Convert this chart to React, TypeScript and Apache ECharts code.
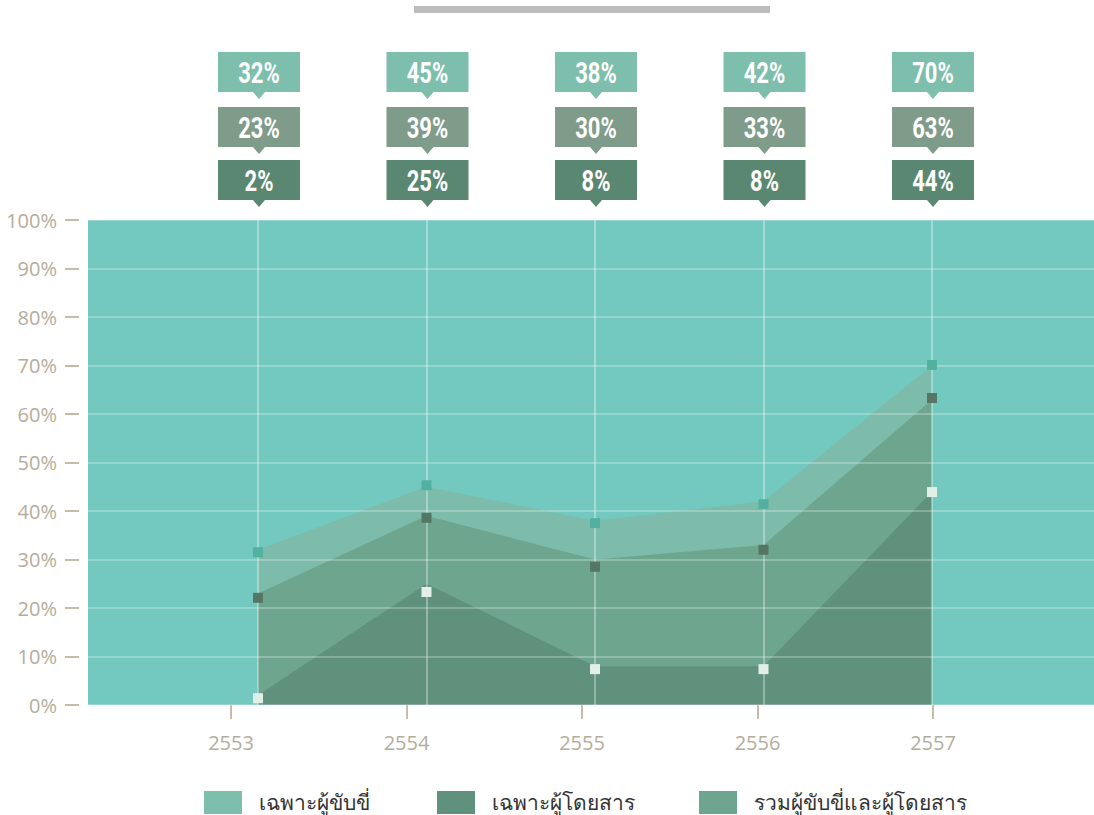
import React, { useEffect, useRef } from "react";
import * as echarts from "echarts";

const years = ["2553", "2554", "2555", "2556", "2557"];
const seriesNames = ["เฉพาะผู้ขับขี่", "เฉพาะผู้โดยสาร", "รวมผู้ขับขี่และผู้โดยสาร"];
// label values (also the area outlines)
const driverOnly = [32, 45, 38, 42, 70];
const combined = [23, 39, 30, 33, 63];
const passengerOnly = [2, 25, 8, 8, 44];
// marker values as drawn
const driverMarkers = [31.5, 45.3, 37.5, 41.4, 70.1];
const combinedMarkers = [22.1, 38.6, 28.5, 32.0, 63.3];
const passengerMarkers = [1.4, 23.3, 7.4, 7.4, 43.9];

const C_TEAL = "#73c9bf";
const C_LIGHT = "#7dbcaa";
const C_MID = "#6ea58f";
const C_DARK = "#60917c";
const C_ROW1 = "#7dbead";
const C_ROW2 = "#7f9b8a";
const C_ROW3 = "#5a8771";
const AXIS_TXT = "#b5ad9b";
const AXIS_TICK = "#c4bba8";
const GRIDLINE = "rgba(255,255,255,0.33)";

export default function App() {
  const ref = useRef<HTMLDivElement>(null);
  useEffect(() => {
    if (!ref.current) return;
    const chart = echarts.init(ref.current, undefined, { renderer: "svg" });
    const labelData = years.map((_, i) => [i, driverOnly[i], combined[i], passengerOnly[i]]);
    const option: any = {
      animation: false,
      graphic: [
        { type: "rect", shape: { x: 414, y: 6, width: 356, height: 7 }, style: { fill: "#bdbdbd" } },
      ],
      grid: [
        { left: 88, top: 220, width: 1006, height: 485, show: true, backgroundColor: C_TEAL, borderWidth: 0 },
        { left: 258, top: 220, width: 674, height: 485 },
        { left: 231, top: 220, width: 702, height: 485 },
        { left: 79, top: 220, width: 1, height: 485 },
      ],
      xAxis: [
        { gridIndex: 0, type: "value", show: false },
        {
          gridIndex: 1, type: "category", data: years, boundaryGap: false, z: 5,
          axisLine: { show: false }, axisTick: { show: false }, axisLabel: { show: false },
          splitLine: { show: true, lineStyle: { color: GRIDLINE, width: 2 } },
        },
        {
          gridIndex: 2, type: "category", data: years, boundaryGap: false, offset: 7,
          axisLine: { show: true, lineStyle: { color: "rgba(0,0,0,0)" } },
          axisTick: { show: true, length: 14, interval: 0, lineStyle: { color: AXIS_TICK, width: 2 } },
          axisLabel: { color: AXIS_TXT, fontSize: 20, margin: 20, fontFamily: "'Open Sans', sans-serif" },
          splitLine: { show: false },
        },
        { gridIndex: 3, type: "value", show: false },
      ],
      yAxis: [
        {
          gridIndex: 0, type: "value", min: 0, max: 100, interval: 10, z: 5,
          axisLine: { show: false },
          axisTick: { show: false },
          axisLabel: { show: false },
          splitLine: { show: true, lineStyle: { color: GRIDLINE, width: 1.5 } },
        },
        { gridIndex: 1, type: "value", min: 0, max: 100, show: false },
        { gridIndex: 2, type: "value", min: 0, max: 100, show: false },
        {
          gridIndex: 3, type: "value", min: 0, max: 100, interval: 10, position: "left",
          axisLine: { show: true, lineStyle: { color: "rgba(0,0,0,0)" } },
          axisTick: { show: true, inside: false, length: 14, lineStyle: { color: AXIS_TICK, width: 2 } },
          axisLabel: { show: true, color: AXIS_TXT, fontSize: 20, margin: 22, formatter: "{value}%", fontFamily: "'Open Sans', sans-serif" },
          splitLine: { show: false },
        },
      ],
      legend: [0, 1, 2].map((k) => ({
        data: [{ name: seriesNames[k], itemStyle: { color: [C_ROW1, C_DARK, C_MID][k] } }],
        left: [199, 432, 694][k],
        top: 786,
        itemWidth: 38,
        itemHeight: 23,
        icon: "rect",
        selectedMode: false,
        textStyle: { fontSize: 21, color: "#333", padding: [0, 0, 0, 12] },
      })),
      series: [
        {
          name: seriesNames[0], type: "line", xAxisIndex: 1, yAxisIndex: 1, data: driverOnly,
          symbol: "none", lineStyle: { width: 0 }, itemStyle: { color: C_LIGHT },
          areaStyle: { color: C_LIGHT, opacity: 1 }, z: 2,
        },
        {
          name: seriesNames[2], type: "line", xAxisIndex: 1, yAxisIndex: 1, data: combined,
          symbol: "none", lineStyle: { width: 0 }, itemStyle: { color: C_MID },
          areaStyle: { color: C_MID, opacity: 1 }, z: 2,
        },
        {
          name: seriesNames[1], type: "line", xAxisIndex: 1, yAxisIndex: 1, data: passengerOnly,
          symbol: "none", lineStyle: { width: 0 }, itemStyle: { color: C_DARK },
          areaStyle: { color: C_DARK, opacity: 1 }, z: 2,
        },
        {
          type: "scatter", xAxisIndex: 1, yAxisIndex: 1, data: driverMarkers, symbol: "rect",
          symbolSize: 10, itemStyle: { color: "#52b0a0", opacity: 1 }, z: 10,
        },
        {
          type: "scatter", xAxisIndex: 1, yAxisIndex: 1, data: combinedMarkers, symbol: "rect",
          symbolSize: 10, itemStyle: { color: "#557565", opacity: 1 }, z: 10,
        },
        {
          type: "scatter", xAxisIndex: 1, yAxisIndex: 1, data: passengerMarkers, symbol: "rect",
          symbolSize: 10, itemStyle: { color: "#e2efe9", opacity: 1 }, z: 10,
        },
        {
          type: "custom", xAxisIndex: 1, yAxisIndex: 1, data: labelData, clip: false, z: 10,
          encode: { x: 0, y: 1 },
          renderItem: (params: any, api: any) => {
            const i = api.value(0);
            const pt = api.coord([i, 100]);
            const cx = pt[0] + 1;
            const top = pt[1];
            const rows = [
              { v: api.value(1), c: C_ROW1, y: top - 168 },
              { v: api.value(2), c: C_ROW2, y: top - 113 },
              { v: api.value(3), c: C_ROW3, y: top - 60 },
            ];
            const children: any[] = [];
            rows.forEach((r) => {
              children.push({ type: "rect", shape: { x: cx - 41, y: r.y, width: 82, height: 40 }, style: { fill: r.c } });
              children.push({
                type: "polygon",
                shape: { points: [[cx - 6, r.y + 40], [cx + 6, r.y + 40], [cx, r.y + 47]] },
                style: { fill: r.c },
              });
              children.push({
                type: "text",
                x: cx,
                y: r.y + 21,
                scaleX: 0.76,
                style: {
                  text: r.v + "%",
                  fill: "#ffffff",
                  fontSize: 29,
                  fontWeight: "bold",
                  fontFamily: "Roboto, 'Noto Sans', sans-serif",
                  align: "center",
                  verticalAlign: "middle",
                },
              });
            });
            return { type: "group", children };
          },
        },
      ],
    };
    chart.setOption(option);
    return () => chart.dispose();
  }, []);
  return <div ref={ref} style={{ position: "absolute", left: 0, top: 0, width: 1094, height: 815 }} />;
}
